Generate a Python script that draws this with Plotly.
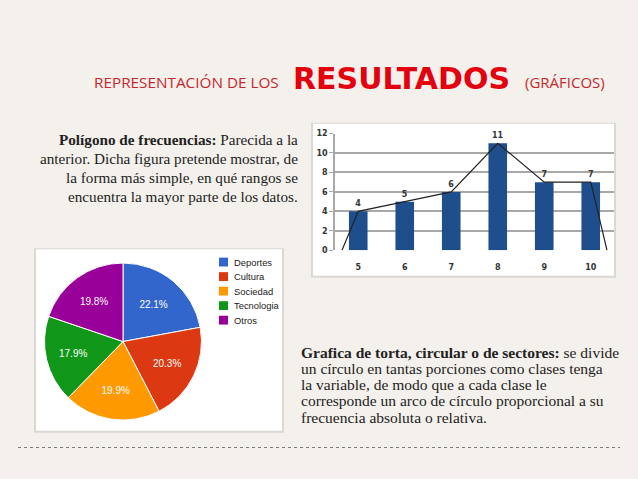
import plotly.graph_objects as go

W, H = 638, 479
def px(x): return x / W
def py(y): return 1 - y / H

# ---- data ----
bar_categories = [5, 6, 7, 8, 9, 10]
bar_values = [4, 5, 6, 11, 7, 7]
poly_x = [4.65, 5, 6, 7, 8, 9, 10, 10.35]
poly_y = [0, 4, 5, 6, 11, 7, 7, 0]
y_ticks = [0, 2, 4, 6, 8, 10, 12]

pie_labels = ["Deportes", "Cultura", "Sociedad", "Tecnologia", "Otros"]
pie_values = [22.1, 20.3, 19.9, 17.9, 19.8]
pie_colors = ["#3366cc", "#dc3912", "#ff9900", "#109618", "#990099"]

left_lines = [
    "<b>Polígono de frecuencias:</b> Parecida a la",
    "anterior. Dicha figura pretende mostrar, de",
    "la forma más simple, en qué rangos se",
    "encuentra la mayor parte de los datos.",
]
bottom_lines = [
    "<b>Grafica de torta, circular o de sectores:</b> se divide",
    "un círculo en tantas porciones como clases tenga",
    "la variable, de modo que a cada clase le",
    "corresponde un arco de círculo proporcional a su",
    "frecuencia absoluta o relativa.",
]

fig = go.Figure()

fig.add_trace(go.Bar(
    x=bar_categories, y=bar_values, width=0.4,
    marker=dict(color="#1f4e8c", line=dict(width=0)),
    text=[f"<b>{v}</b>" for v in bar_values], textposition="outside",
    textfont=dict(family="DejaVu Sans", size=8, color="#333333"),
    cliponaxis=False, showlegend=False, xaxis="x", yaxis="y",
))
fig.add_trace(go.Scatter(
    x=poly_x, y=poly_y, mode="lines",
    line=dict(color="#222222", width=1.2),
    showlegend=False, xaxis="x", yaxis="y", cliponaxis=True,
))

fig.add_trace(go.Pie(
    labels=pie_labels, values=pie_values, sort=False, direction="clockwise",
    rotation=0, marker=dict(colors=pie_colors, line=dict(color="white", width=1)),
    texttemplate="%{value:.1f}%", textposition="inside", insidetextorientation="horizontal",
    textfont=dict(family="Liberation Sans", size=10, color="white"),
    domain=dict(x=[px(43), px(203)], y=[py(424), py(264)]),
    hoverinfo="skip", showlegend=False,
))

shapes = []
# bar box shadow + box
shapes.append(dict(type="rect", xref="paper", yref="paper", x0=px(311), x1=px(616), y0=py(279), y1=py(121),
                   fillcolor="rgba(0,0,0,0.10)", line=dict(width=0), layer="below"))
shapes.append(dict(type="rect", xref="paper", yref="paper", x0=px(313), x1=px(614), y0=py(277), y1=py(122),
                   fillcolor="white", line=dict(width=0), layer="below"))
# pie box shadow + box
shapes.append(dict(type="rect", xref="paper", yref="paper", x0=px(34), x1=px(284), y0=py(437), y1=py(249),
                   fillcolor="rgba(0,0,0,0.10)", line=dict(width=0), layer="below"))
shapes.append(dict(type="rect", xref="paper", yref="paper", x0=px(36), x1=px(282), y0=py(435), y1=py(250),
                   fillcolor="white", line=dict(width=0), layer="below"))
# bottom dotted rule
shapes.append(dict(type="line", xref="paper", yref="paper", x0=px(18), x1=px(620), y0=py(452), y1=py(452),
                   line=dict(color="#7a7a7a", width=1.2, dash="dot")))

annotations = []
# pie legend (swatch + label), built from the pie's own labels and colours
for i, (lab, col) in enumerate(zip(pie_labels, pie_colors)):
    yc = 263 + 14.8 * i
    shapes.append(dict(type="rect", xref="paper", yref="paper", x0=px(219), x1=px(228),
                       y0=py(yc + 4.5), y1=py(yc - 4.5), fillcolor=col, line=dict(width=0)))
    annotations.append(dict(text=lab, x=px(232), y=py(yc), xref="paper", yref="paper",
                            xanchor="left", yanchor="middle", showarrow=False,
                            font=dict(family="Liberation Sans", size=9.4, color="#222222")))

annotations.append(dict(text="REPRESENTACIÓN DE LOS", x=px(92), y=py(80), xref="paper", yref="paper",
                        xanchor="left", yanchor="middle", showarrow=False,
                        font=dict(family="Open Sans", size=15.3, color="#c8262c")))
annotations.append(dict(text="<b>RESULTADOS</b>", x=px(291), y=py(76), xref="paper", yref="paper",
                        xanchor="left", yanchor="middle", showarrow=False,
                        font=dict(family="DejaVu Sans", size=30, color="#e3000f")))
annotations.append(dict(text="(GRÁFICOS)", x=px(523), y=py(80), xref="paper", yref="paper",
                        xanchor="left", yanchor="middle", showarrow=False,
                        font=dict(family="Open Sans", size=15, color="#c8262c")))

for i, t in enumerate(left_lines):
    annotations.append(dict(text=t, x=px(300), y=py(138 + 19.5 * i), xref="paper", yref="paper",
                            xanchor="right", yanchor="middle", showarrow=False,
                            font=dict(family="Liberation Serif", size=15.2, color="#222222")))
for i, t in enumerate(bottom_lines):
    annotations.append(dict(text=t, x=px(299), y=py(355 + 16.5 * i), xref="paper", yref="paper",
                            xanchor="left", yanchor="middle", showarrow=False,
                            font=dict(family="Liberation Serif", size=15.5, color="#222222")))

fig.update_layout(
    width=W, height=H, margin=dict(l=0, r=0, t=0, b=0),
    paper_bgcolor="#f4f1ec", plot_bgcolor="rgba(0,0,0,0)",
    shapes=shapes, annotations=annotations, showlegend=False,
    xaxis=dict(domain=[px(335), px(614)], range=[4.5, 10.5], tickvals=bar_categories,
               ticktext=[f"<b>{c}</b>" for c in bar_categories], showgrid=False, zeroline=False,
               showline=False, ticks="", tickfont=dict(family="DejaVu Sans", size=8, color="#333333"),
               ticklabelstandoff=11, fixedrange=True),
    yaxis=dict(domain=[py(251), py(132)], range=[0, 12], tickvals=y_ticks,
               ticktext=[f"<b>{v}</b>" for v in y_ticks], showgrid=True, gridcolor="#a8a8a8", gridwidth=1.5,
               zeroline=False, showline=True, linecolor="#a8a8a8", linewidth=1.5,
               ticks="outside", ticklen=4, tickcolor="#a8a8a8",
               tickfont=dict(family="DejaVu Sans", size=8, color="#333333"), fixedrange=True),
)

fig.write_html("out.html", config={"displayModeBar": False},
               post_script="document.body.style.margin='0px';document.body.style.overflow='hidden';")
